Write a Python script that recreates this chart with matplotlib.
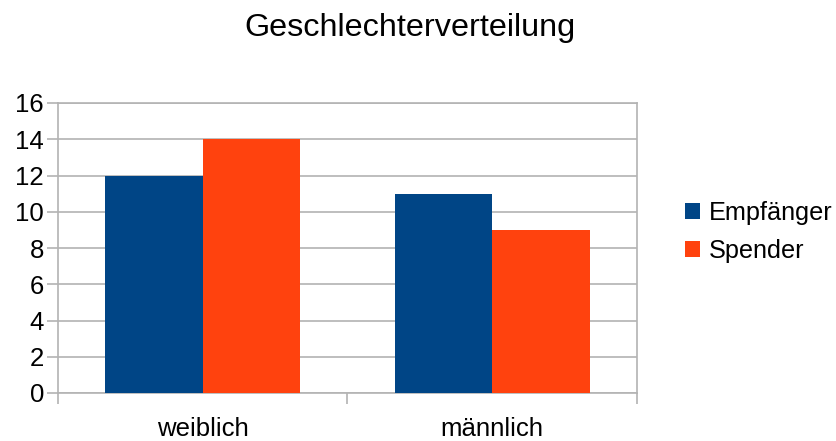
import matplotlib
matplotlib.use("Agg")
import matplotlib.pyplot as plt
import numpy as np

categories = ["weiblich", "männlich"]
series_names = ["Empfänger", "Spender"]
empfaenger = [12, 11]
spender = [14, 9]
yticks = [0, 2, 4, 6, 8, 10, 12, 14, 16]

colors = ["#004586", "#ff420e"]
grid_c = "#b3b3b3"

plt.rcParams['font.family'] = ['Liberation Sans', 'DejaVu Sans']

fig = plt.figure(figsize=(8.37, 4.41), dpi=100)
ax = fig.add_axes([58/837, 1-393/441, (637-58)/837, (393-103)/441])

x = np.arange(len(categories))
w = 0.336
b1 = ax.bar(x - w/2, empfaenger, w, color=colors[0], label=series_names[0], zorder=3)
b2 = ax.bar(x + w/2, spender, w, color=colors[1], label=series_names[1], zorder=3)

ax.set_xlim(-0.5, len(categories) - 0.5)
ax.set_ylim(0, 16)
ax.set_yticks(yticks)
ax.yaxis.grid(True, color=grid_c, linewidth=1.2, zorder=0)
ax.set_axisbelow(True)

ax.set_xticks(np.arange(len(categories) + 1) - 0.5)
ax.set_xticklabels([])
ax.set_xticks(x, minor=True)
ax.set_xticklabels(categories, minor=True)
ax.tick_params(axis='x', which='major', length=8, width=1.2, color=grid_c, direction='out')
ax.tick_params(axis='x', which='minor', length=0, pad=17, labelsize=18.5)
ax.tick_params(axis='y', length=8, width=1.2, color=grid_c, labelsize=18.5, pad=2)

for s in ax.spines.values():
    s.set_color(grid_c)
    s.set_linewidth(1.2)

fig.text(410/837, 1-28/441, "Geschlechterverteilung", ha='center', va='center', fontsize=23.3)

fig.legend(handles=[b1, b2], loc='center left', bbox_to_anchor=(685/837, 1-232/441),
           frameon=False, fontsize=18.2, handlelength=0.6, handleheight=0.6,
           handletextpad=0.35, labelspacing=0.55, borderpad=0, borderaxespad=0)

fig.savefig("out.png", dpi=100)
